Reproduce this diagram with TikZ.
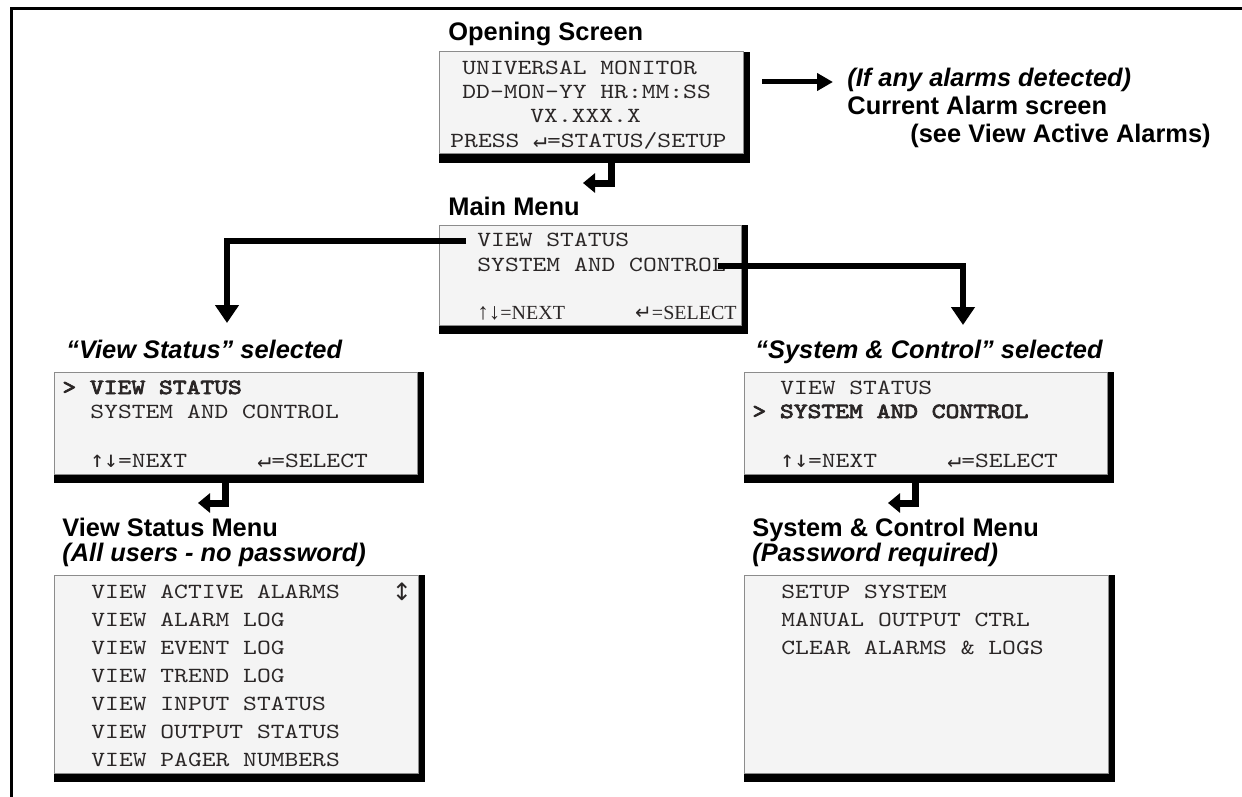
\documentclass[tikz,border=0pt]{standalone}
\usepackage{fontspec}
\setmainfont{Liberation Sans}
\newfontfamily\monofam[FakeStretch=1.217]{Latin Modern Mono}
\newfontfamily\monoboldfam[FakeStretch=1.217,FakeBold=3.5]{Latin Modern Mono}
\newfontfamily\seriffam{Liberation Serif}
\newfontfamily\symfam{DejaVu Sans Mono}
\newfontfamily\symsans{DejaVu Sans}
\usetikzlibrary{arrows.meta,fit}
\definecolor{scrfill}{HTML}{F4F4F4}
\definecolor{scrtext}{HTML}{2A2626}
\newcommand\hdfont{\fontsize{12.7}{15}\selectfont\bfseries}
\newcommand\mnfont{\monofam\fontsize{10.8}{13}\selectfont}
\newcommand\mbfont{\monoboldfam\fontsize{10.8}{13}\selectfont}
\newcommand\sefont{\seriffam\fontsize{10}{12}\selectfont}
\newcommand\ret{{\symfam\fontsize{11.5}{13}\selectfont ↵}}
\newcommand\updn{{\symfam\fontsize{11.5}{13}\selectfont ↑↓}}
\newcommand\scrbox[5]{%
  \fill[black] (#2,#3) rectangle (#4+7,#5+9);
  \node[scr,fit={(#2,#3)(#4,#5)}] (#1) {};}
\tikzset{
  scr/.style={draw=black!45, line width=0.5pt, fill=scrfill, inner sep=0pt},
  ttl/.style={anchor=base west, inner sep=0pt, font=\hdfont},
  ttli/.style={anchor=base west, inner sep=0pt, font=\hdfont\itshape},
  ln/.style={anchor=base west, inner sep=0pt, font=\mnfont, text=scrtext},
  lnb/.style={anchor=base west, inner sep=0pt, font=\mbfont, text=scrtext},
  conn/.style={line width=2.75pt, -{Triangle[length=9pt,width=11.5pt]}},
  alarm/.style={line width=2.5pt, -{Triangle[length=8pt,width=8.5pt]}},
  hook/.style={line width=3.5pt, -{Triangle[length=6pt,width=9.5pt]}},
}
\begin{document}
\begin{tikzpicture}[x=0.5pt,y=-0.5pt]
\useasboundingbox (0,0) rectangle (1242,797);
\draw[line width=1.5pt] (11,800) -- (11,9) -- (1245,9);

% ---------- Opening screen
\node[ttl] (tOS) at (448,41) {Opening Screen};
\scrbox{os}{439}{52}{743}{154}
\node[ln] (os1) at (462,75) {UNIVERSAL MONITOR};
\node[ln] (os2) at (462,98) {DD-MON-YY HR:MM:SS};
\node[ln] (os3) at (530,123) {VX.XXX.X};
\node[ln] (os4) at (450,148) {PRESS \ret=STATUS/SETUP};

% alarm arrow and text
\node[ttli] (al1) at (847,87) {(If any alarms detected)};
\node[ttl] (al2) at (847,115) {Current Alarm screen};
\node[ttl] (al3) at (910,142) {(see View Active Alarms)};
\coordinate (a0) at (762,82);
\coordinate (a1) at (833,82);
\draw[alarm] (a0) -- (a1);

% hook to main menu
\coordinate (h1s) at (611,162);
\coordinate (h1e) at (583,183);
\draw[hook] (h1s) |- (h1e);

% ---------- Main menu
\node[ttl] (tMM) at (448,215) {Main Menu};
\scrbox{mm}{439}{225}{741}{325}
\node[ln] (mm1) at (477,246) {VIEW STATUS};
\node[ln] (mm2) at (477,271) {SYSTEM AND CONTROL};
\node[anchor=base west, inner sep=0pt, font=\sefont, text=scrtext] (mm3) at (477,319) {{\fontsize{11.5}{12}\selectfont ↑↓}=NEXT};
\node[anchor=base east, inner sep=0pt, font=\sefont, text=scrtext] (mm4) at (737,319) {{\symsans\fontsize{10}{10}\selectfont ↵}=SELECT};

% connectors
\coordinate (cl0) at (466,241);
\coordinate (cl1) at (227,323);
\draw[conn] (cl0) -| (cl1);
\coordinate (cr0) at (718,266);
\coordinate (cr1) at (963,325);
\draw[conn] (cr0) -| (cr1);

% ---------- View Status selected
\node[ttli] (tLS) at (66,358) {“View Status” selected};
\scrbox{ls}{54}{372}{417}{474}
\node[lnb] (ls1) at (62,394) {> VIEW STATUS};
\node[ln] (ls2) at (90,418) {SYSTEM AND CONTROL};
\node[ln] (ls3) at (90,467) {\updn=NEXT};
\node[ln] (ls4) at (257,467) {\ret=SELECT};

\coordinate (h2s) at (225,482);
\coordinate (h2e) at (198,503);
\draw[hook] (h2s) |- (h2e);

% ---------- View Status Menu
\node[ttl] (tLB) at (62,536) {View Status Menu};
\node[ttli] (tLB2) at (62,561) {(All users - no password)};
\scrbox{lb}{54}{575}{418}{773}
\node[ln] (lb1) at (91,598) {VIEW ACTIVE ALARMS};
\node[ln] (lb2) at (91,626) {VIEW ALARM LOG};
\node[ln] (lb3) at (91,654) {VIEW EVENT LOG};
\node[ln] (lb4) at (91,682) {VIEW TREND LOG};
\node[ln] (lb5) at (91,710) {VIEW INPUT STATUS};
\node[ln] (lb6) at (91,738) {VIEW OUTPUT STATUS};
\node[ln] (lb7) at (91,766) {VIEW PAGER NUMBERS};
\node[inner sep=0pt, font=\symsans\fontsize{12}{12}\selectfont, text=scrtext] (lbud) at (402,592) {↕};

% ---------- System & Control selected
\node[ttli] (tRS) at (755,358) {“System \& Control” selected};
\scrbox{rs}{744}{372}{1107}{474}
\node[ln] (rs1) at (780,394) {VIEW STATUS};
\node[lnb] (rs2) at (752,418) {> SYSTEM AND CONTROL};
\node[ln] (rs3) at (780,467) {\updn=NEXT};
\node[ln] (rs4) at (947,467) {\ret=SELECT};

\coordinate (h3s) at (915,482);
\coordinate (h3e) at (888,503);
\draw[hook] (h3s) |- (h3e);

% ---------- System & Control Menu
\node[ttl] (tRB) at (752,536) {System \& Control Menu};
\node[ttli] (tRB2) at (752,561) {(Password required)};
\scrbox{rb}{744}{575}{1108}{773}
\node[ln] (rb1) at (781,598) {SETUP SYSTEM};
\node[ln] (rb2) at (781,626) {MANUAL OUTPUT CTRL};
\node[ln] (rb3) at (781,654) {CLEAR ALARMS \& LOGS};
\end{tikzpicture}
\end{document}
